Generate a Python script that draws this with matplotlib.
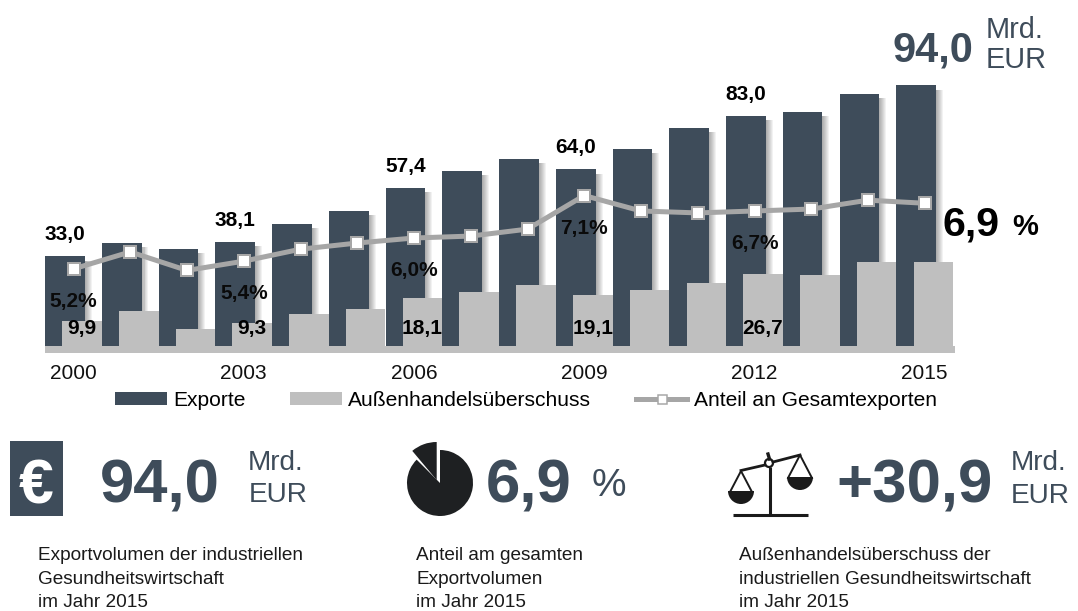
import matplotlib
matplotlib.use("Agg")
import matplotlib.pyplot as plt
from matplotlib.lines import Line2D
from matplotlib.patches import Patch, Rectangle, Wedge, Circle
import numpy as np

plt.rcParams['font.family'] = ['Liberation Sans', 'DejaVu Sans']

years = list(range(2000, 2016))
exports = [33.0, 37.9, 35.8, 38.1, 44.6, 49.2, 57.4, 63.5, 67.7, 64.0, 71.4, 78.8, 83.0, 84.5, 90.9, 94.0]
surplus = [9.9, 13.5, 7.0, 9.3, 12.5, 14.3, 18.1, 20.3, 22.8, 19.1, 21.0, 23.5, 26.7, 26.4, 31.0, 30.9]
share = [5.2, 5.64, 5.16, 5.4, 5.71, 5.87, 6.0, 6.05, 6.23, 7.1, 6.7, 6.65, 6.7, 6.75, 6.98, 6.9]
export_labels = {2000: "33,0", 2003: "38,1", 2006: "57,4", 2009: "64,0", 2012: "83,0"}
surplus_labels = {2000: "9,9", 2003: "9,3", 2006: "18,1", 2009: "19,1", 2012: "26,7"}
share_labels = {2000: "5,2%", 2003: "5,4%", 2006: "6,0%", 2009: "7,1%", 2012: "6,7%"}
tick_years = [2000, 2003, 2006, 2009, 2012, 2015]

DARK = "#3E4C5A"
GRAY = "#BFBFBF"
LINE = "#A6A6A6"
PX = 0.72  # points per pixel at dpi 100
W, H = 1078, 611

fig = plt.figure(figsize=(W / 100, H / 100), dpi=100, facecolor="white")

L, R, T, B = 45, 955, 70, 353
ax = fig.add_axes([L / W, 1 - B / H, (R - L) / W, (B - T) / H])
step = 56.75
yscale = 2.805
base_px = 349
ax.set_xlim((L - 73.5) / step, (R - 73.5) / step)
ax.set_ylim((base_px - B) / yscale, (base_px - T) / yscale)
x = np.arange(len(years))
off = 8.5 / step
bw = 39.5 / step

# soft shadow on the right of the dark bars
for k in range(1, 8):
    ax.bar(x - off - bw / 2, np.array(exports) - 1.5, width=bw + k / step, align="edge",
           color="black", alpha=0.05, linewidth=0, zorder=1)
ax.bar(x - off, exports, width=bw, color=DARK, linewidth=0, zorder=2)
ax.bar(x + off, surplus, width=bw, color=GRAY, linewidth=0, zorder=3)
ax.axhspan((base_px - B) / yscale, (base_px - 346) / yscale, color=GRAY, linewidth=0, zorder=4)

ax.set_xticks([years.index(y) for y in tick_years])
ax.set_xticklabels([str(y) for y in tick_years], fontsize=15, color="#111111")
ax.set_yticks([])
ax.tick_params(axis="x", length=0, pad=8)
for s in ax.spines.values():
    s.set_visible(False)
ax.patch.set_alpha(0)

for y, t in export_labels.items():
    i = years.index(y)
    ax.annotate(t, (i - off, exports[i]), xytext=(0, 16 * PX), textcoords="offset points",
                ha="center", va="baseline", fontsize=15, fontweight="bold", color="black", zorder=6)
for y, t in surplus_labels.items():
    i = years.index(y)
    ax.annotate(t, (i + off, 0), xytext=(0, 15 * PX), textcoords="offset points",
                ha="center", va="baseline", fontsize=15, fontweight="bold", color="black", zorder=6)

ax2 = ax.twinx()
s_scale = 38.6
ax2.set_ylim(6 - (B - 238) / s_scale, 6 + (238 - T) / s_scale)
ax2.axis("off")
ax2.plot(x, share, color=LINE, lw=5 * PX, marker="s", ms=12.5 * PX, mfc="white", mec=LINE, mew=2 * PX, zorder=5)
for y, t in share_labels.items():
    i = years.index(y)
    ax2.annotate(t, (i, share[i]), xytext=(0, -38 * PX), textcoords="offset points",
                 ha="center", va="baseline", fontsize=15, fontweight="bold", color="#0a0a0a", zorder=6)

handles = [Patch(color=DARK, linewidth=0), Patch(color=GRAY, linewidth=0),
           Line2D([], [], color=LINE, lw=5 * PX, marker="s", ms=9 * PX, mfc="white", mec=LINE, mew=1.5 * PX)]
fig.legend(handles, ["Exporte", "Außenhandelsüberschuss", "Anteil an Gesamtexporten"],
           loc="center", bbox_to_anchor=(526 / W, 1 - 400.5 / H), ncol=3, frameon=False,
           fontsize=15.1, handlelength=2.45, handleheight=0.53, handletextpad=0.3,
           columnspacing=2.15, borderpad=0, borderaxespad=0)

# overlay in pixel coordinates for headline numbers and icons
ov = fig.add_axes([0, 0, 1, 1], zorder=10)
ov.set_xlim(0, W)
ov.set_ylim(H, 0)
ov.axis("off")

def txt(px, py, s, size, color=DARK, weight="normal", ha="left"):
    ov.text(px, py, s, fontsize=size, color=color, fontweight=weight, ha=ha, va="baseline")

txt(892, 61, "94,0", 30, weight="bold")
txt(986, 38, "Mrd.", 20.8)
txt(986, 68, "EUR", 20.8)
txt(942, 235, "6,9", 29.6, color="black", weight="bold")
txt(1012, 235, "%", 21, color="black", weight="bold")

# euro icon
ov.add_patch(Rectangle((10, 441), 53, 75, color=DARK, linewidth=0))
ov.text(36, 503, "€", fontsize=45, color="white", fontweight="bold", ha="center", va="baseline")
txt(100, 503, "94,0", 44.4, weight="bold")
txt(248, 470, "Mrd.", 20.2)
txt(249, 502, "EUR", 20.2)

# pie icon
PIE = "#1E2022"
ov.add_patch(Wedge((440, 483), 33, -90, 225, color=PIE, linewidth=0))
ov.add_patch(Wedge((436.7, 480), 38, 230, 270, color=PIE, linewidth=0))
txt(486, 503, "6,9", 44.5, weight="bold")
txt(592, 496, "%", 28)

# scales icon
K = "#1A1A1A"
ov.plot([733, 808], [515, 515], color=K, lw=2.2, solid_capstyle="butt")
ov.plot([770, 770], [467, 515], color=K, lw=2.2, solid_capstyle="butt")
ov.plot([741, 765], [470.5, 465], color=K, lw=2)
ov.plot([773, 800], [462, 455], color=K, lw=2)
ov.plot([768, 769.5], [454, 459], color=K, lw=2.4)
ov.add_patch(Circle((769, 463), 4, facecolor="white", edgecolor=K, linewidth=1.6))
ov.plot([730, 741, 752], [492, 471, 492], color=K, lw=1.4)
ov.plot([788, 800, 812], [478, 455, 478], color=K, lw=1.4)
ov.add_patch(Wedge((741, 491), 13, 0, 180, color=K, linewidth=0))
ov.add_patch(Wedge((800, 477), 13, 0, 180, color=K, linewidth=0))
txt(836, 503, "+30,9", 44.5, weight="bold")
txt(1011, 470, "Mrd.", 20.2)
txt(1011, 503, "EUR", 20.2)

# captions
cap = "#1a1a1a"
for px, lines in [(38, ["Exportvolumen der industriellen", "Gesundheitswirtschaft", "im Jahr 2015"]),
                  (416, ["Anteil am gesamten", "Exportvolumen", "im Jahr 2015"]),
                  (739, ["Außenhandelsüberschuss der", "industriellen Gesundheitswirtschaft", "im Jahr 2015"])]:
    for j, line in enumerate(lines):
        txt(px, 560 + j * 23.5, line, 13.7, color=cap)

fig.savefig("out.png", dpi=100)
